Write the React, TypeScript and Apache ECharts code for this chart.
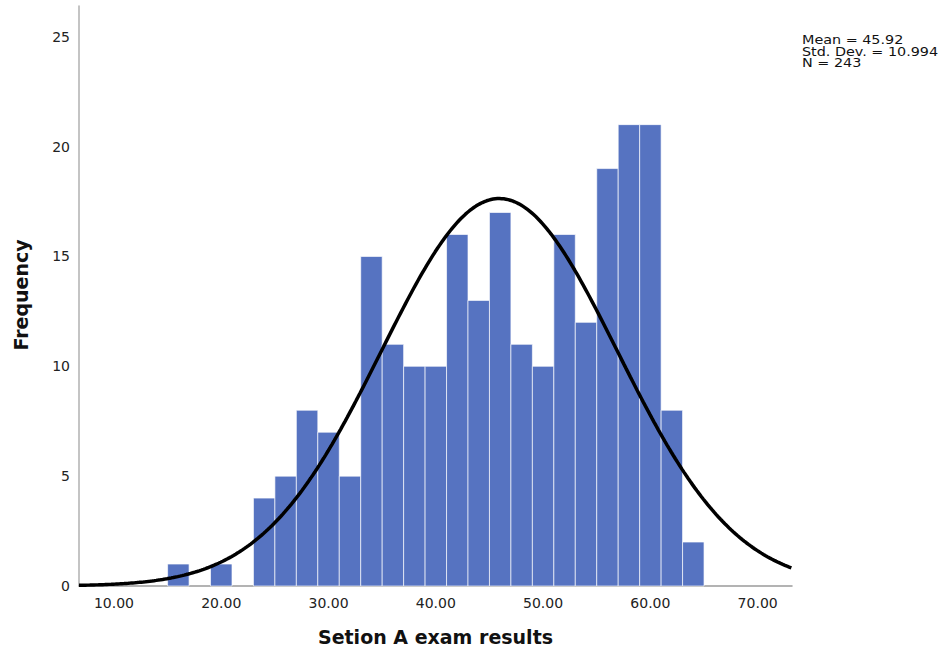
import React, { useEffect, useRef } from "react";
import * as echarts from "echarts";

// Histogram bins (centre of each 2-unit bin) and their frequencies
const binCenters = [16, 20, 24, 26, 28, 30, 32, 34, 36, 38, 40, 42, 44, 46, 48, 50, 52, 54, 56, 58, 60, 62, 64];
const counts = [1, 1, 4, 5, 8, 7, 5, 15, 11, 10, 10, 16, 13, 17, 11, 10, 16, 12, 19, 21, 21, 8, 2];
const binWidth = 2;

// Summary statistics shown on the chart
const mean = 45.92;
const stdDev = 10.994;
const nCases = 243;

// Axis ticks
const xTickValues = [10, 20, 30, 40, 50, 60, 70];
const yTickValues = [0, 5, 10, 15, 20, 25];
const xMin = 6.74;
const xMax = 73.2;
const yMax = 26.4;

const FONT = "DejaVu Sans";

export default function App() {
  const ref = useRef<HTMLDivElement>(null);

  useEffect(() => {
    if (!ref.current) return;
    const chart = echarts.init(ref.current, null, { renderer: "svg" });

    // Normal curve scaled to the histogram (N * binWidth * pdf)
    const curve: number[][] = [];
    const scale = (nCases * binWidth) / (stdDev * Math.sqrt(2 * Math.PI));
    for (let x = xMin; x <= xMax + 1e-9; x += 0.2) {
      const z = (x - mean) / stdDev;
      curve.push([x, scale * Math.exp(-0.5 * z * z)]);
    }
    {
      const z = (xMax - mean) / stdDev;
      curve.push([xMax, scale * Math.exp(-0.5 * z * z)]);
    }

    const barData = binCenters.map((c, i) => [c, counts[i]]);

    const statLines = [
      `Mean = ${mean.toFixed(2)}`,
      `Std. Dev. = ${stdDev.toFixed(3)}`,
      `N = ${nCases}`,
    ];

    chart.setOption({
      animation: false,
      backgroundColor: "#ffffff",
      grid: { left: 79, top: 6, width: 713, height: 580, containLabel: false },
      xAxis: {
        type: "value",
        min: xMin,
        max: xMax,
        axisLine: { show: true, onZero: false, lineStyle: { color: "#9a9a9a", width: 1.5 } },
        axisTick: { show: false },
        splitLine: { show: false },
        axisLabel: {
          customValues: xTickValues,
          formatter: (v: number) => v.toFixed(2),
          fontFamily: FONT,
          fontSize: 14,
          color: "#222",
          margin: 10,
        },
      },
      yAxis: {
        type: "value",
        min: 0,
        max: yMax,
        interval: 5,
        axisLine: { show: true, lineStyle: { color: "#b0b0b0", width: 1.5 } },
        axisTick: { show: false },
        splitLine: { show: false },
        axisLabel: {
          customValues: yTickValues,
          fontFamily: FONT,
          fontSize: 14,
          color: "#222",
          margin: 9,
        },
      },
      series: [
        {
          type: "custom",
          data: barData,
          encode: { x: 0, y: 1 },
          renderItem: (params: any, api: any) => {
            const c = api.value(0);
            const n = api.value(1);
            const p0 = api.coord([c - binWidth / 2, n]);
            const p1 = api.coord([c + binWidth / 2, 0]);
            return {
              type: "rect",
              shape: { x: p0[0], y: p0[1], width: p1[0] - p0[0], height: p1[1] - p0[1] },
              style: { fill: "#5673C1", stroke: "rgba(255,255,255,0.65)", lineWidth: 1 },
            };
          },
          z: 2,
        },
        {
          type: "line",
          data: curve,
          showSymbol: false,
          smooth: false,
          lineStyle: { color: "#000", width: 3.5 },
          z: 5,
        },
      ],
      graphic: [
        {
          type: "text",
          x: 21,
          y: 295,
          rotation: Math.PI / 2,
          style: {
            text: "Frequency",
            font: `bold 19px ${FONT}`,
            fill: "#111",
            align: "center",
            verticalAlign: "middle",
          },
        },
        {
          type: "text",
          x: 435.5,
          y: 637,
          style: {
            text: "Setion A exam results",
            font: `bold 19px ${FONT}`,
            fill: "#111",
            align: "center",
            verticalAlign: "middle",
          },
        },
        ...statLines.map((t, i) => ({
          type: "text",
          x: 802,
          y: 40 + i * 11.7,
          scaleX: 1.26,
          style: {
            text: t,
            fontFamily: FONT,
            fontSize: 11.4,
            lineHeight: 11.4,
            fill: "#111",
            align: "left",
            verticalAlign: "middle",
          },
        })),
      ],
    });

    return () => chart.dispose();
  }, []);

  return (
    <div
      ref={ref}
      style={{ position: "absolute", left: 0, top: 0, width: 944, height: 656, background: "#fff" }}
    />
  );
}
